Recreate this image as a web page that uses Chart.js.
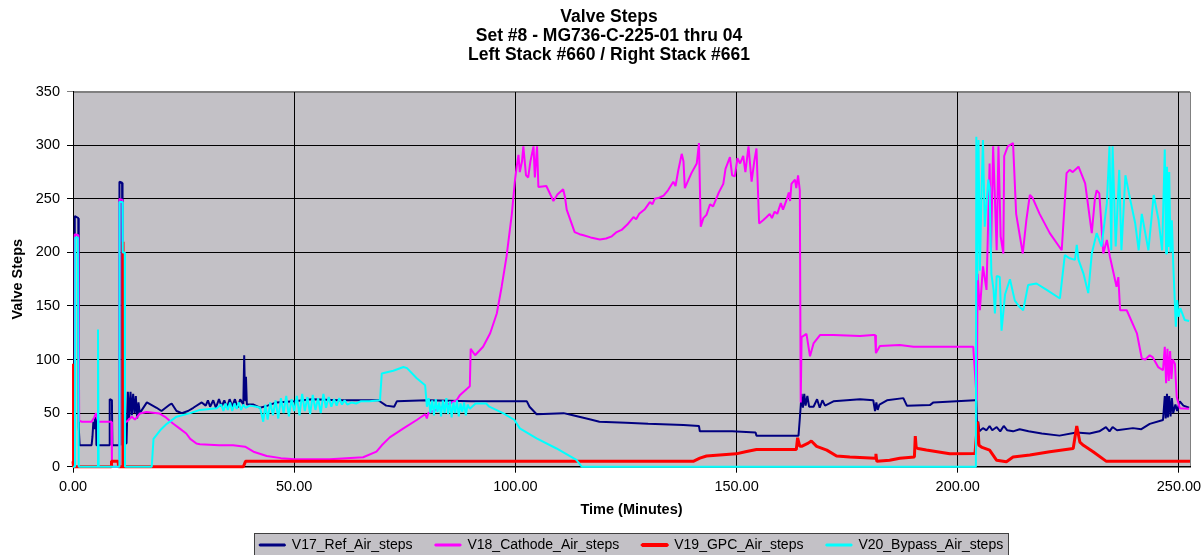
<!DOCTYPE html>
<html>
<head>
<meta charset="utf-8">
<title>Valve Steps</title>
<script src="https://cdn.jsdelivr.net/npm/chart.js@4.4.1/dist/chart.umd.min.js"></script>
<style>
  html, body { margin: 0; padding: 0; background: #ffffff; overflow: hidden; }
  canvas { display: block; }
</style>
</head>
<body>
<canvas id="chart" width="1201" height="555"></canvas>
<script>
// ---- Chart text -------------------------------------------------------
const titleLines = [
  'Valve Steps',
  'Set #8 - MG736-C-225-01 thru 04',
  'Left Stack #660 / Right Stack #661'
];
const xAxisTitle = 'Time (Minutes)';
const yAxisTitle = 'Valve Steps';
const seriesNames = ['V17_Ref_Air_steps', 'V18_Cathode_Air_steps', 'V19_GPC_Air_steps', 'V20_Bypass_Air_steps'];

// ---- Tick values -------------------------------------------------------
const xTickValues = [0, 50, 100, 150, 200, 250];
const yTickValues = [0, 50, 100, 150, 200, 250, 300, 350];

// ---- Logged samples: [time in minutes, valve steps] -------------------
const refAirSteps = [
  [0,0],[0.35,0],[0.4,234],[1.2,232],[1.3,37],[1.5,20],[4.2,20],[4.4,28],[4.6,42],[4.8,35],
  [5.0,46],[5.2,44],[5.3,20],[8.2,20],[8.3,63],[8.8,62],[8.9,20],[10.45,20],[10.5,266],[11.1,265],
  [11.2,20],[12.1,22],[12.4,70],[12.7,45],[13.0,70],[13.3,48],[13.6,68],[13.9,50],[14.2,66],[14.5,45],
  [14.8,60],[15.1,50],[16.7,60],[18.9,55],[20.0,52],[21.9,58],[22.3,59],[23.4,52],[24.6,50],[26.0,52],
  [27.2,55],[29.1,60],[30.0,57],[30.5,62],[31.0,56],[31.7,62],[32.3,55],[33.0,63],[33.6,56],[34.2,62],
  [34.8,55],[35.4,63],[36.0,56],[36.6,63],[37.2,55],[37.8,63],[38.5,58],[38.7,104],[38.9,62],[39.1,84],
  [39.3,58],[40.8,58],[42.3,55],[44,57],[46,60],[50,61],[54,63],[60,62],[66,62],[69,62],
  [70.8,57],[72.6,56],[73.2,61],[80,62],[90,61],[100,61],[102.6,61],[103.2,56],[104.8,49],[110.9,50],
  [113,48],[117,44],[119,42],[125,41],[130,40],[138,39],[141.5,38],[141.7,33],[149,33],[154.3,32],
  [154.5,29],[164,29],[164.3,45],[164.7,68],[165,55],[165.3,68],[165.6,57],[166,66],[166.4,56],[167.4,56],
  [168.2,63],[168.8,55],[169.4,62],[170,57],[171.9,61],[177.9,63],[180.9,62],[181.3,52],[181.6,60],[181.9,53],
  [182.3,58],[184,62],[187.7,64],[188.5,57],[193.7,57.5],[194.5,60],[203.9,62],[204.2,62],[204.4,30],[204.6,42],
  [204.9,33],[205.7,36],[206.5,34],[207.2,38],[207.8,34],[208.8,37],[209.6,33],[210.4,38],[211.2,34],[212.5,33],
  [214,35],[216,33],[219,31],[223,29],[226.8,32],[229.8,31],[232,33],[233.5,37],[234.3,33],[235,37],
  [236,34],[239.6,36],[241.5,35],[243.4,40],[246.4,43.6],[246.8,66],[247.0,45],[247.3,68],[247.5,46],[247.8,66],
  [248.1,47],[248.4,64],[248.7,50],[249.2,58],[249.6,52],[250.2,61],[251,57],[252.3,55]
];

const cathodeAirSteps = [
  [0,0],[0.35,0],[0.4,217],[1.2,216],[1.4,43],[2,42],[4.2,42],[4.8,46],[5.2,50],[5.7,42],
  [8.7,42],[8.8,3],[8.9,0],[10.45,0],[10.5,250],[11.15,249],[11.4,42],[12.1,42],[13.3,46.6],[14.0,44],
  [15.1,49.6],[16.6,51],[19.6,49.6],[21,46],[22.6,40.3],[24,36],[25.6,31],[26.5,26],[27.9,21.6],[28.7,21],
  [33,20],[36.2,20],[38.9,18.7],[40.8,14],[43.8,10],[47,8],[50.2,7],[58,7],[65.6,8.8],[68.6,14],
  [69.8,20],[71.6,27.4],[74.7,35.8],[77.7,43.6],[79.6,49],[80.0,45],[80.3,50],[83.7,56],[86.7,62],[87.5,67],
  [89.7,75],[89.9,110],[90.9,104],[92.7,112],[94.3,124.5],[95.8,143],[96.9,168],[98,196],[99.2,236],[99.9,267],
  [100.3,280],[100.7,291],[101.0,275],[101.5,285],[101.8,299],[102.4,272],[102.9,270],[103.4,285],[104.1,299],[104.4,270],
  [104.9,299],[105.2,261],[107,262],[108.6,248],[109.5,254],[110.8,259],[111.2,252],[111.6,240],[113.4,219],[114.5,217],
  [115.4,216],[117,214],[119.1,212],[120.5,213],[121.8,215],[122.9,219],[124,221],[125.3,226],[126.7,233],[127.3,231],
  [128,236],[129.2,240],[130.4,247],[131,245],[131.5,250],[132.5,251],[133.5,253],[134.5,258],[135.7,266],[136.2,262],
  [136.8,276],[137.6,292],[138.0,285],[138.3,260],[139.8,274],[141.0,283],[141.5,302],[141.9,224],[142.5,232],[143.2,235],
  [144.0,245],[144.7,243],[146,256],[147,264],[147.5,278],[148.5,289],[149.0,272],[149.6,271],[150.2,288],[150.8,283],
  [151.5,290],[152.0,275],[152.7,299],[153.4,266],[154.0,285],[154.5,297],[155.1,227],[156,230],[156.8,233],[157.5,236],
  [158,232],[158.6,238],[159.2,236],[160,246],[160.5,240],[161.3,249],[161.8,256],[162.1,248],[162.4,264],[163.2,268],
  [163.5,260],[163.9,272],[164.3,258],[164.5,60],[164.7,121],[165.8,124],[166.6,103],[167.4,115],[168.9,123],[171.9,123],
  [177.9,122],[180.9,123],[181.3,123],[181.5,106],[182.4,112.6],[186.9,113.6],[190,112],[195,112],[200,112],[203.5,112],
  [204.3,62],[204.5,180],[205.0,146],[205.7,187],[206.5,165],[207.2,283],[207.5,199],[208.0,299],[208.8,202],[209.2,299],
  [209.7,215],[210.3,199],[210.5,290],[211.3,299],[212.5,302],[213.2,236],[214.7,199],[215.5,230],[216.3,253.6],[216.9,251],
  [218.5,236],[220.8,218],[223.5,202],[224.6,274],[225.3,277],[226.0,275],[227.3,280],[228.8,264.5],[230.3,218],[231.0,250],
  [231.4,258],[232.0,255],[232.9,199],[233.7,211.6],[234.4,196],[235.9,168],[236.3,177],[236.7,146],[238.2,146],[240.5,124.5],
  [241.6,101],[242.4,100],[243.4,104],[244.1,102],[245.3,93],[246.4,90],[246.8,112],[247.1,78],[247.4,110],[247.7,80],
  [248.0,108],[248.3,82],[248.6,100],[249.1,96],[249.5,65],[250.2,54.5],[252.3,54]
];

const gpcAirSteps = [
  [0,5],[0.05,96],[0.2,0],[8.6,0],[8.7,5],[10.2,5],[10.3,0],[11.25,0],[11.3,210],[11.35,0],
  [38.5,0],[39.0,5],[140.2,5],[141.7,8],[143.2,10],[149.9,12],[152,14],[154.5,16],[163.5,16],[163.8,27],
  [164.3,19],[164.7,19],[166.2,22],[166.9,24],[168.1,19],[170.4,15.5],[172.6,10],[175.6,9],[177.9,8.7],[181.3,8],
  [181.5,12],[181.7,5],[184.6,6],[186.9,7.8],[190.2,9],[190.4,28.6],[190.6,18],[191,17],[192.9,15.5],[198.2,12],
  [203.9,12.4],[204.5,42],[204.8,20],[205.5,18],[207.2,15.5],[208.8,6],[211,4.7],[212.5,9],[216.3,11],[220.8,14],
  [226.1,17],[226.9,38],[227.6,23],[228.4,20],[230.6,14],[233.6,5],[252.5,5]
];

const bypassAirSteps = [
  [0,0],[0.45,0],[0.5,214],[1.1,214],[1.3,0],[5.6,0],[5.65,128],[5.8,0],[10.45,0],[10.5,247],
  [11.2,247],[11.25,200],[11.7,200],[11.75,0],[17.8,0],[18.2,26],[19.7,34],[21.2,40],[23.4,46.7],[26.5,50],
  [28.7,53],[32.5,54.5],[33.5,58],[34,52],[34.5,59],[35,53],[35.5,60],[36,52],[36.5,59],[37,54],
  [37.5,60],[38,53],[38.5,58],[39,55],[40,57],[41.5,56],[42.3,55],[43,42],[43.5,58],[44,44],
  [44.6,60],[45.2,48],[45.8,62],[46.4,45],[47,64],[47.6,50],[48.2,66],[48.8,47],[49.4,63],[50,52],
  [50.6,66],[51.2,48],[51.8,68],[52.4,52],[53,65],[53.6,49],[54.2,67],[54.8,53],[55.4,64],[56,50],
  [56.6,68],[57.2,55],[57.8,65],[58.4,56],[59,63],[59.6,57],[60.2,64],[60.8,58],[61.4,62],[62,58],
  [63,60],[64,59],[65,61],[67,61],[69.4,62],[69.8,87],[72.4,89.6],[74.7,93],[75.5,92],[77.7,82.5],
  [79.6,76],[80.0,56],[80.4,64],[80.8,50],[81.2,62],[81.6,48],[82.0,63],[82.4,51],[82.8,60],[83.2,47],
  [83.6,62],[84.0,50],[84.4,64],[84.8,49],[85.2,61],[85.6,46],[86.0,60],[86.4,50],[86.8,62],[87.2,47],
  [87.6,59],[88.0,51],[88.4,60],[88.8,48],[89.2,58],[89.7,54],[91,59],[93.4,59],[94.1,56],[97.2,50],
  [99.8,43.6],[101,35.8],[104.8,26.5],[109.3,17],[113.8,6.3],[115,0],[204.1,0],[204.2,308],[204.4,174],[204.7,305],
  [205.0,183],[205.4,261],[205.7,305],[206.1,224],[206.9,268],[207.2,260],[207.6,180],[208.1,165],[208.4,143],[208.8,178],
  [209.5,177],[209.9,127],[210.7,161],[211.8,175],[212.9,155],[214,149],[214.8,146],[215.9,169.5],[217.8,171],[220.1,165],
  [223.1,157],[224.2,197.5],[225.3,194.5],[226.5,193],[226.9,207],[227.3,193],[228.4,180.5],[229.5,162],[230.3,199],[231.4,218],
  [232.5,205.5],[233.7,246],[234.3,299],[234.7,202],[235.0,299],[235.7,205.5],[236.5,277],[237.0,202],[237.9,272],[239,249],
  [240.1,227.5],[240.9,202],[241.6,236],[243.1,202],[244.3,253.6],[245.4,230],[246.2,202],[246.8,296],[247.1,199],[247.3,280],
  [247.6,205],[247.8,275],[248.1,200],[248.4,230],[248.7,190],[249.3,130.6],[249.6,155.6],[249.9,140],[250.3,148],[251.3,137],
  [252.3,136]
];

// ---- Styling -----------------------------------------------------------
const seriesColors = ['#000080', '#ff00ff', '#ff0000', '#00ffff'];
const seriesLineWidths = [2, 2, 3, 2];
const PLOT_BG = '#c3c1c6';
const FRAME = '#808080';

Chart.defaults.font.family = "'Liberation Sans', Arial, Helvetica, sans-serif";
Chart.defaults.color = '#000000';

const seriesData = [refAirSteps, cathodeAirSteps, gpcAirSteps, bypassAirSteps];

const datasets = seriesData.map((points, i) => ({
  label: seriesNames[i],
  data: points.map(([x, y]) => ({ x, y })),
  borderColor: seriesColors[i],
  backgroundColor: seriesColors[i],
  borderWidth: seriesLineWidths[i],
  // later series are painted over earlier ones
  order: seriesData.length - 1 - i,
  pointRadius: 0,
  pointHoverRadius: 0,
  tension: 0,
  fill: false,
  borderJoinStyle: 'bevel',
  clip: 4
}));

// Grey plot area with a thin frame, plus the framed legend panel.
const plotFrame = {
  id: 'plotFrame',
  afterLayout(chart) {
    const tb = chart.titleBlock;
    const dx = 609 - (tb.left + tb.right) / 2;
    tb.left += dx;
    tb.right += dx;
  },
  beforeDraw(chart) {
    const { ctx, chartArea: a } = chart;
    ctx.save();
    ctx.fillStyle = PLOT_BG;
    ctx.fillRect(a.left, a.top, a.right - a.left, a.bottom - a.top);
    ctx.strokeStyle = FRAME;
    ctx.lineWidth = 1;
    ctx.strokeRect(Math.round(a.left) + 0.5, Math.round(a.top) + 0.5,
                   Math.round(a.right - a.left), Math.round(a.bottom - a.top));

    const boxes = chart.legend && chart.legend.legendHitBoxes;
    if (boxes && boxes.length) {
      const first = boxes[0];
      const last = boxes[boxes.length - 1];
      const left = Math.round(first.left - 6) + 0.5;
      const right = Math.round(last.left + last.width + 5) + 0.5;
      const top = Math.round(first.top + first.height / 2 - 12) + 0.5;
      ctx.fillStyle = PLOT_BG;
      ctx.fillRect(left, top, right - left, 40);
      ctx.strokeStyle = '#404040';
      ctx.strokeRect(left, top, right - left, 40);
    }
    ctx.restore();
  }
};

new Chart(document.getElementById('chart'), {
  type: 'line',
  data: { datasets },
  plugins: [plotFrame],
  options: {
    responsive: false,
    animation: false,
    devicePixelRatio: 1,
    events: [],
    layout: { padding: { left: 0, right: 11, top: 0, bottom: -7 } },
    plugins: {
      title: {
        display: true,
        text: titleLines,
        color: '#000000',
        font: { size: 17.5, weight: 'bold', lineHeight: '19px' },
        padding: { top: 7.5, bottom: 27.2 }
      },
      legend: {
        position: 'bottom',
        fullSize: false,
        labels: {
          color: '#000000',
          font: { size: 14 },
          boxWidth: 25,
          boxHeight: 1,
          padding: 23,
          sort: (a, b) => a.datasetIndex - b.datasetIndex
        }
      },
      tooltip: { enabled: false }
    },
    scales: {
      x: {
        type: 'linear',
        min: 0,
        max: 252.5,
        afterBuildTicks: (scale) => { scale.ticks = xTickValues.map(v => ({ value: v })); },
        afterFit: (scale) => { scale.height = 48.3; scale.paddingLeft = 0; scale.paddingRight = 0; },
        ticks: {
          callback: (v) => Number(v).toFixed(2),
          font: { size: 14.5 },
          color: '#000000',
          padding: 5.6,
          maxRotation: 0,
          autoSkip: false
        },
        grid: { color: '#000000', lineWidth: 1, tickLength: 6 },
        border: { color: '#000000' },
        title: {
          display: true,
          text: xAxisTitle,
          color: '#000000',
          font: { size: 14.5, weight: 'bold' },
          padding: { top: 0, bottom: -3.7 }
        }
      },
      y: {
        type: 'linear',
        min: 0,
        max: 350,
        afterBuildTicks: (scale) => { scale.ticks = yTickValues.map(v => ({ value: v })); },
        afterFit: (scale) => { scale.width = 73; },
        ticks: {
          font: { size: 14.5 },
          color: '#000000',
          padding: 7
        },
        grid: {
          color: (c) => (c.tick && c.tick.value === 350 ? FRAME : '#000000'),
          lineWidth: 1,
          tickLength: 6
        },
        border: { color: '#000000' },
        title: {
          display: true,
          text: yAxisTitle,
          color: '#000000',
          font: { size: 14.5, weight: 'bold' },
          padding: { top: 9.3, bottom: 0 }
        }
      }
    }
  }
});
</script>
</body>
</html>
